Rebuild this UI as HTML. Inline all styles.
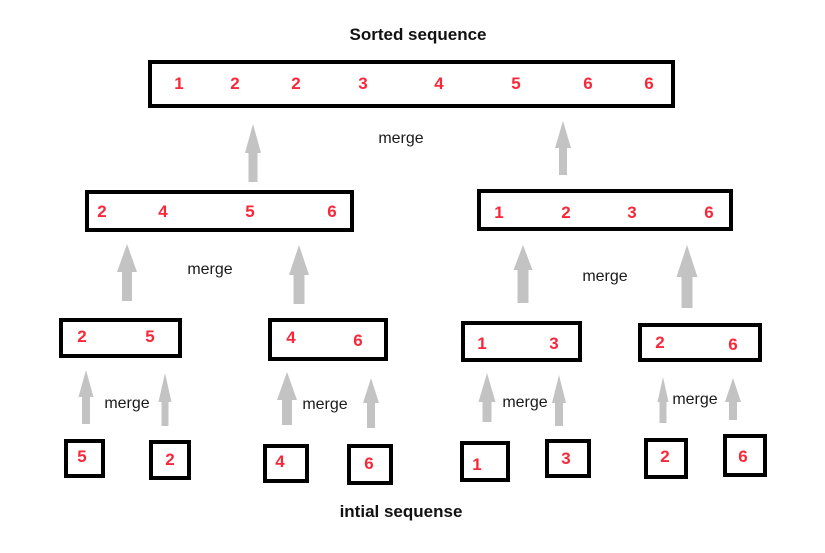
<!DOCTYPE html>
<html>
<head>
<meta charset="utf-8">
<style>
  html, body { margin:0; padding:0; background:#ffffff; }
  svg { display:block; }
  .n { font-family:"Liberation Sans", Arial, sans-serif; font-weight:bold; font-size:17px; fill:#f8283a; text-anchor:middle; }
  .m { font-family:"Liberation Sans", Arial, sans-serif; font-size:16px; fill:#1a1a1a; text-anchor:middle; }
  .t { font-family:"Liberation Sans", Arial, sans-serif; font-weight:bold; font-size:17px; fill:#111111; text-anchor:middle; }
  rect { fill:#ffffff; stroke:#000000; stroke-width:4; }
  polygon { fill:#c3c3c3; }
</style>
</head>
<body>
<svg width="825" height="553" viewBox="0 0 825 553" xmlns="http://www.w3.org/2000/svg">
  <!-- titles -->
  <text class="t" x="418" y="40">Sorted sequence</text>
  <text class="t" x="401" y="517">intial sequense</text>

  <!-- top box -->
  <rect x="150" y="62" width="523" height="44"/>
  <text class="n" x="179" y="89">1</text>
  <text class="n" x="235" y="89">2</text>
  <text class="n" x="296" y="89">2</text>
  <text class="n" x="363" y="89">3</text>
  <text class="n" x="439" y="89">4</text>
  <text class="n" x="516" y="89">5</text>
  <text class="n" x="588" y="89">6</text>
  <text class="n" x="649" y="89">6</text>

  <!-- middle boxes -->
  <rect x="87" y="192" width="265" height="38"/>
  <text class="n" x="102" y="217">2</text>
  <text class="n" x="163" y="217">4</text>
  <text class="n" x="250" y="217">5</text>
  <text class="n" x="332" y="217">6</text>

  <rect x="479" y="191" width="252" height="38"/>
  <text class="n" x="499" y="218">1</text>
  <text class="n" x="566" y="218">2</text>
  <text class="n" x="632" y="218">3</text>
  <text class="n" x="709" y="218">6</text>

  <!-- level 2 boxes -->
  <rect x="61" y="320" width="119" height="36"/>
  <text class="n" x="82" y="342">2</text>
  <text class="n" x="150" y="342">5</text>

  <rect x="270" y="320" width="116" height="39"/>
  <text class="n" x="291" y="343">4</text>
  <text class="n" x="358" y="346">6</text>

  <rect x="463" y="323" width="117" height="37"/>
  <text class="n" x="482" y="349">1</text>
  <text class="n" x="554" y="349">3</text>

  <rect x="640" y="325" width="120" height="35"/>
  <text class="n" x="660" y="348">2</text>
  <text class="n" x="733" y="350">6</text>

  <!-- leaves -->
  <rect x="66" y="441" width="37" height="35"/>
  <text class="n" x="82" y="462">5</text>
  <rect x="151" y="442" width="38" height="36"/>
  <text class="n" x="170" y="465">2</text>
  <rect x="265" y="446" width="42" height="35"/>
  <text class="n" x="280" y="467">4</text>
  <rect x="349" y="446" width="42" height="37"/>
  <text class="n" x="369" y="469">6</text>
  <rect x="462" y="443" width="46" height="37"/>
  <text class="n" x="477" y="470">1</text>
  <rect x="547" y="441" width="42" height="35"/>
  <text class="n" x="566" y="464">3</text>
  <rect x="646" y="440" width="40" height="37"/>
  <text class="n" x="665" y="462">2</text>
  <rect x="725" y="436" width="40" height="39"/>
  <text class="n" x="743" y="462">6</text>

  <!-- arrows: tip, head, shaft -->
  <!-- top level -->
  <polygon points="253,124 261,153 257.5,153 257.5,182 248.5,182 248.5,153 245,153"/>
  <polygon points="563,121 571,148 567,148 567,175 559,175 559,148 555,148"/>
  <!-- middle level -->
  <polygon points="127,244 137,272 132,272 132,301 122,301 122,272 117,272"/>
  <polygon points="299,245 309,275 304.5,275 304.5,304 293.5,304 293.5,275 289,275"/>
  <polygon points="523,245 532.5,270 528.5,270 528.5,303 517.5,303 517.5,270 513.5,270"/>
  <polygon points="687,245 697.5,277 692.5,277 692.5,308 681.5,308 681.5,277 676.5,277"/>
  <!-- bottom level -->
  <polygon points="86,370 93.5,397 90,397 90,424 82,424 82,397 78.5,397"/>
  <polygon points="165,373 171.5,402 168.5,402 168.5,426 161.5,426 161.5,402 158.5,402"/>
  <polygon points="287,372 297,400 292,400 292,425 282,425 282,400 277,400"/>
  <polygon points="371,378 379,403 375,403 375,428 367,428 367,403 363,403"/>
  <polygon points="487,373 495.5,402 491.5,402 491.5,422 482.5,422 482.5,402 478.5,402"/>
  <polygon points="559,375 566,403 563,403 563,426 555,426 555,403 552,403"/>
  <polygon points="663,377 668.5,402 666.5,402 666.5,423 659.5,423 659.5,402 657.5,402"/>
  <polygon points="733,378 741,402 737,402 737,420 729,420 729,402 725,402"/>

  <!-- merge labels -->
  <text class="m" x="401" y="143">merge</text>
  <text class="m" x="210" y="274">merge</text>
  <text class="m" x="605" y="281">merge</text>
  <text class="m" x="127" y="408">merge</text>
  <text class="m" x="325" y="409">merge</text>
  <text class="m" x="525" y="407">merge</text>
  <text class="m" x="695" y="404">merge</text>
</svg>
</body>
</html>
